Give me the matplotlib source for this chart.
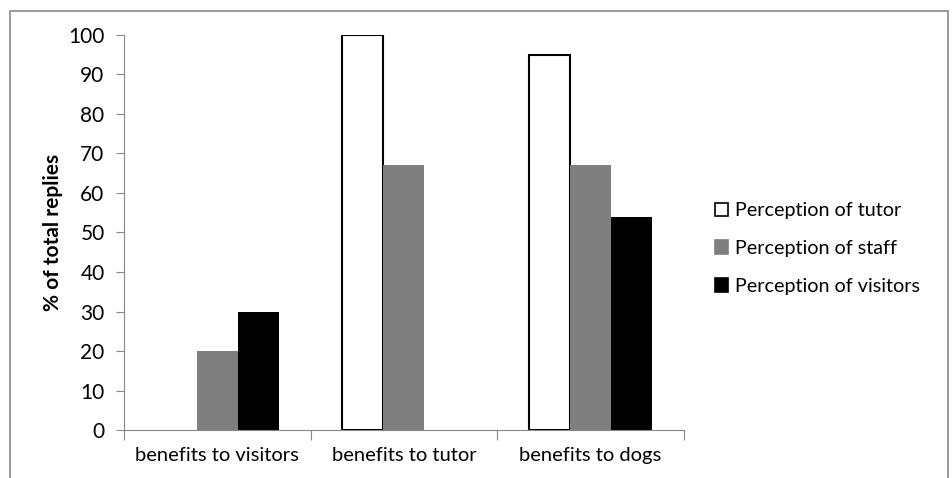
import numpy as np
import matplotlib.pyplot as plt
from matplotlib.patches import Patch, Rectangle

plt.rcParams['font.family'] = ['Lato', 'DejaVu Sans']

categories = ['benefits to visitors', 'benefits to tutor', 'benefits to dogs']
tutor = [0, 100, 95]
staff = [20, 67, 67]
visitors = [30, 0, 54]

series = [('Perception of tutor', tutor, 'white'),
          ('Perception of staff', staff, '#7f7f7f'),
          ('Perception of visitors', visitors, 'black')]

fig = plt.figure(figsize=(9.52, 4.78), dpi=100)
ax = fig.add_axes([0.1303, 0.1004, 0.588, 0.8264])

x = np.arange(len(categories))
w = 0.22
for k, (name, vals, col) in enumerate(series):
    pos = x + (k - 1) * w
    for p, v in zip(pos, vals):
        if v > 0:
            ax.bar(p, v, width=w, color=col, edgecolor='black' if col == 'white' else col,
                   linewidth=1.5 if col == 'white' else 0)

ax.set_xlim(-0.5, 2.5)
ax.set_ylim(0, 100)
ax.set_yticks(range(0, 101, 10))
ax.tick_params(axis='y', labelsize=15, length=6, color='#888888', direction='out', pad=8)
ax.set_xticks([-0.5, 0.5, 1.5, 2.5])
ax.set_xticklabels([])
ax.set_xticks(x, minor=True)
ax.set_xticklabels(categories, minor=True, fontsize=14.5)
ax.tick_params(axis='x', which='major', length=7, color='#888888')
ax.tick_params(axis='x', which='minor', length=0, pad=12)
for s in ['top', 'right']:
    ax.spines[s].set_visible(False)
for s in ['left', 'bottom']:
    ax.spines[s].set_color('#888888')
ax.set_ylabel('% of total replies', fontsize=15, fontweight='bold', labelpad=4)

handles = [Patch(facecolor=c, edgecolor='black' if c == 'white' else c, linewidth=1.2)
           for _, _, c in series]
fig.legend(handles, [s[0] for s in series], loc='center left',
           bbox_to_anchor=(0.732, 0.48), frameon=False, fontsize=14.2,
           handlelength=0.7, handleheight=0.7, handletextpad=0.35, labelspacing=1.05)

# outer frame
fig.patches.append(Rectangle((10 / 952, -0.05), 938 / 952, 1.05 - 11 / 478,
                             transform=fig.transFigure, fill=False,
                             edgecolor='#888888', linewidth=1.2))

fig.savefig('out.png', dpi=100)
